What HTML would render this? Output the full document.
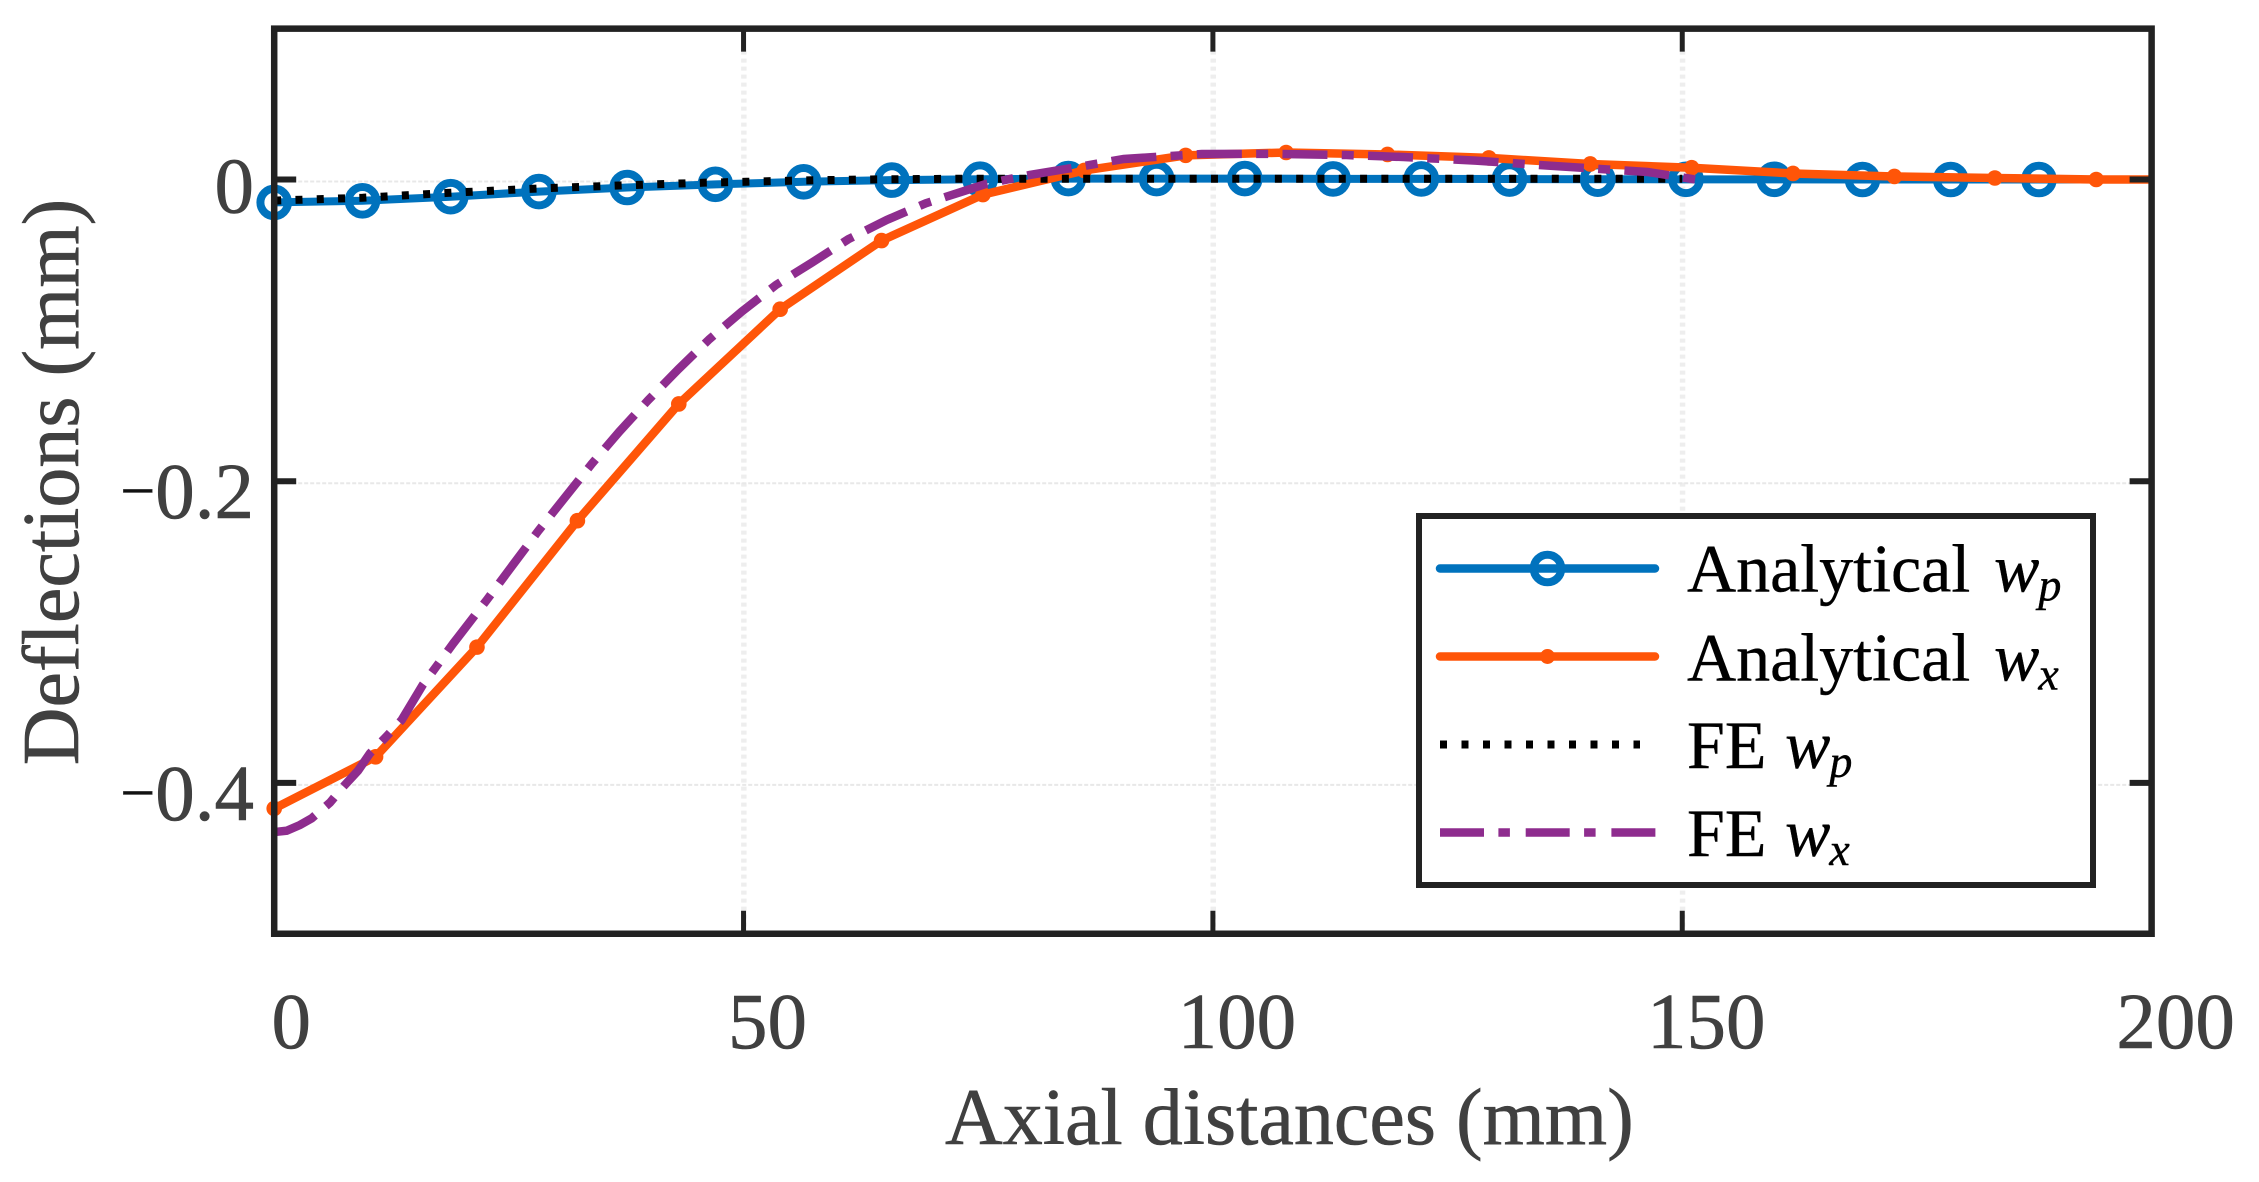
<!DOCTYPE html>
<html>
<head>
<meta charset="utf-8">
<title>Deflections chart</title>
<style>
html,body{margin:0;padding:0;background:#fff;width:2259px;height:1182px;overflow:hidden}
svg{display:block}
text{font-family:"Liberation Serif","Times New Roman",serif}
.tick-label,.axis-title{fill:#404040;font-size:79px;stroke:#404040;stroke-width:.6px}
.legend-text{fill:#000;font-size:68px;stroke:#000;stroke-width:.4px}
.legend-text .it{font-style:italic}
.legend-text .sub{font-style:italic;font-size:46px}
</style>
</head>
<body>
<svg id="chart" xmlns="http://www.w3.org/2000/svg" width="2259" height="1182" viewBox="0 0 2259 1182">
  <g id="grid"></g>
  <g id="series"></g>
  <g id="frame"></g>
  <g id="labels"></g>
  <text class="axis-title" x="945" y="1144" style="font-size:80px">Axial distances (mm)</text>
  <text class="axis-title" transform="translate(78,482) rotate(-90)" text-anchor="middle" style="font-size:80px">Deflections (mm)</text>

  <g>
    <rect x="1419" y="516" width="674" height="369" fill="#fff" stroke="#222" stroke-width="6"/>
    <g>
      <line x1="1440" x2="1655" y1="568.5" y2="568.5" stroke="#0072bd" stroke-width="8.5" stroke-linecap="round"/>
      <circle cx="1547.5" cy="568.5" r="13.8" fill="none" stroke="#0072bd" stroke-width="8"/>
      <text class="legend-text" x="1687" y="591.5">Analytical <tspan class="it" x="1994">w</tspan><tspan class="sub" dx="-1" dy="9">p</tspan></text>
    </g>
    <g>
      <line x1="1440" x2="1655" y1="656.5" y2="656.5" stroke="#ff5508" stroke-width="8.5" stroke-linecap="round"/>
      <circle cx="1547.5" cy="656.5" r="7.5" fill="#ff5508"/>
      <text class="legend-text" x="1687" y="680.5">Analytical <tspan class="it" x="1994">w</tspan><tspan class="sub" dx="-1" dy="9">x</tspan></text>
    </g>
    <g>
      <line x1="1440" x2="1640" y1="744.5" y2="744.5" stroke="#000" stroke-width="8" stroke-dasharray="7 14.5"/>
      <text class="legend-text" x="1687" y="768">FE <tspan class="it" x="1785">w</tspan><tspan class="sub" dx="-1" dy="9">p</tspan></text>
    </g>
    <g>
      <line x1="1440" x2="1656" y1="832.5" y2="832.5" stroke="#8e2c8e" stroke-width="8.5" stroke-dasharray="44 14.4 11.5 15.8"/>
      <text class="legend-text" x="1687" y="856">FE <tspan class="it" x="1785">w</tspan><tspan class="sub" dx="-1" dy="9">x</tspan></text>
    </g>
  </g>
</svg>
<script>
var xTicks = [0, 50, 100, 150, 200];
var xTickLabels = ["0", "50", "100", "150", "200"];
var yTicks = [0, -0.2, -0.4];
var yTickLabels = ["0", "\u22120.2", "\u22120.4"];

var analyticalWpX = [0, 9.4, 18.8, 28.2, 37.6, 47, 56.4, 65.8, 75.2, 84.6, 94, 103.4, 112.8, 122.2, 131.6, 141, 150.4, 159.8, 169.2, 178.6, 188];
var analyticalWpY = [-0.0152, -0.0141, -0.0114, -0.0080, -0.0053, -0.0032, -0.0015, -0.0004, 0.0002, 0.0006, 0.0006, 0.0006, 0.0004, 0.0004, 0.0003, 0.0002, 0.0001, 0.0001, 0, 0, 0];

var analyticalWxX = [0, 10.8, 21.6, 32.3, 43.1, 53.9, 64.7, 75.5, 86.3, 97.1, 107.8, 118.6, 129.4, 140.2, 151, 161.8, 172.6, 183.3, 194.1];
var analyticalWxY = [-0.417, -0.3827, -0.31, -0.2262, -0.1488, -0.086, -0.0405, -0.01, 0.006, 0.016, 0.0179, 0.0166, 0.0143, 0.0103, 0.0078, 0.004, 0.002, 0.001, 0];

var feWpX = [0, 9.43, 18.5, 27.6, 36.7, 45.9, 50.3, 55, 59.6, 64.2, 68.6, 73.2, 100, 150];
var feWpY = [-0.014, -0.0121, -0.0089, -0.0061, -0.004, -0.0021, -0.0015, -0.0008, -0.0003, 0.0001, 0.0003, 0.0005, 0.0005, 0.0005];

var feWxX = [0, 1.33, 2.75, 3.99, 5.94, 7.33, 8.93, 10.2, 11.84, 13.58, 15.82, 17.31, 19.08, 22.7, 25.41, 28.13, 30.98, 33.82, 36.76, 39.85, 43.05, 46.35, 49.8, 53.46, 57.26, 61.16, 65.25, 69.4, 73.6, 75.9, 80.5, 85.9, 90.5, 98.8, 106.5, 114.2, 120.3, 128, 137.2, 146.3, 151.7];
var feWxY = [-0.4326, -0.4317, -0.4279, -0.4235, -0.4131, -0.4027, -0.3919, -0.3804, -0.37, -0.3583, -0.3351, -0.3225, -0.3075, -0.2783, -0.2556, -0.233, -0.2107, -0.1886, -0.1672, -0.1462, -0.1258, -0.1059, -0.0876, -0.0699, -0.0552, -0.0396, -0.0268, -0.0158, -0.0074, -0.0028, 0.003, 0.0086, 0.0136, 0.0169, 0.017, 0.0162, 0.0149, 0.0125, 0.0086, 0.005, -0.0003];

var xMin = 0, xMax = 200, yMin = -0.5, yMax = 0.1;
var NS = "http://www.w3.org/2000/svg";

function sx(v) { return 274.2 + (v - xMin) * (2151.6 - 274.2) / (xMax - xMin); }
function sy(v) { return 28.65 + (yMax - v) * (933.75 - 28.65) / (yMax - yMin); }

function make(tag, attrs, parent) {
  var el = document.createElementNS(NS, tag);
  for (var k in attrs) el.setAttribute(k, attrs[k]);
  parent.appendChild(el);
  return el;
}
function pathOf(xs, ys) {
  var d = "";
  for (var i = 0; i < xs.length; i++) d += (i ? "L" : "M") + sx(xs[i]).toFixed(2) + " " + sy(ys[i]).toFixed(2);
  return d;
}

var grid = document.getElementById("grid");
var series = document.getElementById("series");
var frame = document.getElementById("frame");
var labels = document.getElementById("labels");

xTicks.forEach(function (t, i) {
  if (t === xMin || t === xMax) return;
  var g = make("line", {x1: sx(t) + 0.3, x2: sx(t) + 0.3, y1: sy(yMax) + 22, y2: sy(yMin), stroke: "#eeeeee", "stroke-width": 5.5, "stroke-dasharray": "4 4"}, grid);
  
  
});
yTicks.forEach(function (t) {
  var g = make("line", {x1: sx(xMin), x2: sx(xMax), y1: sy(t) + 2, y2: sy(t) + 2, stroke: "#e8e8e8", "stroke-width": 2, "stroke-dasharray": "4 2"}, grid);
  
  
});

// Analytical w_p
var lineA = make("path", {d: pathOf(analyticalWpX.concat([xMax]), analyticalWpY.concat([0])), fill: "none", stroke: "#0072bd", "stroke-width": 8}, series);


analyticalWpX.forEach(function (x, i) {
  var c = make("circle", {cx: sx(x), cy: sy(analyticalWpY[i]), r: 13.8, fill: "none", stroke: "#0072bd", "stroke-width": 8}, series);
  
  
});

// Analytical w_x
var lineB = make("path", {d: pathOf(analyticalWxX.concat([xMax]), analyticalWxY.concat([0])), fill: "none", stroke: "#ff5508", "stroke-width": 8.5, "stroke-linejoin": "round"}, series);


analyticalWxX.forEach(function (x, i) {
  var c = make("circle", {cx: sx(x), cy: sy(analyticalWxY[i]), r: 7.8, fill: "#ff5508"}, series);
  
  
});

// FE w_p
var lineC = make("path", {d: pathOf(feWpX, feWpY), fill: "none", stroke: "#000", "stroke-width": 8, "stroke-dasharray": "7 14.3"}, series);



// FE w_x
var lineD = make("path", {d: pathOf(feWxX, feWxY), fill: "none", stroke: "#8e2c8e", "stroke-width": 8.5, "stroke-dasharray": "45 14.3 12 14.3"}, series);



// Frame
var box = make("rect", {x: sx(xMin), y: sy(yMax), width: sx(xMax) - sx(xMin), height: sy(yMin) - sy(yMax), fill: "none", stroke: "#222", "stroke-width": 6.5}, frame);



xTicks.forEach(function (t) {
  if (t === xMin || t === xMax) return;
  var a = make("line", {x1: sx(t), x2: sx(t), y1: sy(yMax), y2: sy(yMax) + 23, stroke: "#222", "stroke-width": 5}, frame);
  
  
  var b = make("line", {x1: sx(t), x2: sx(t), y1: sy(yMin), y2: sy(yMin) - 23, stroke: "#222", "stroke-width": 5}, frame);
  
  
});
yTicks.forEach(function (t) {
  var a = make("line", {x1: sx(xMin), x2: sx(xMin) + 22, y1: sy(t), y2: sy(t), stroke: "#222", "stroke-width": 6}, frame);
  
  
  var b = make("line", {x1: sx(xMax), x2: sx(xMax) - 22, y1: sy(t), y2: sy(t), stroke: "#222", "stroke-width": 6}, frame);
  
  
});

// Tick labels
xTicks.forEach(function (t, i) {
  var l = make("text", {x: sx(t) + (t === xMin ? 17 : 24), y: 1048, "text-anchor": "middle", "class": "tick-label"}, labels);
  
  
  l.textContent = xTickLabels[i];
});
yTicks.forEach(function (t, i) {
  var l = make("text", {x: 254, y: sy(t) + (t === 0 ? 33 : 37), "text-anchor": "end", "class": "tick-label"}, labels);
  
  
  var s = yTickLabels[i];
  if (s.charAt(0) === "\u2212") {
    var m = make("tspan", {dy: -6.5, fill: "#111"}, l);
    m.style.fontSize = "62px";
    m.textContent = s.charAt(0);
    var r = make("tspan", {dy: 6.5}, l);
    r.textContent = s.slice(1);
  } else {
    l.textContent = s;
  }
});
</script>
</body>
</html>
